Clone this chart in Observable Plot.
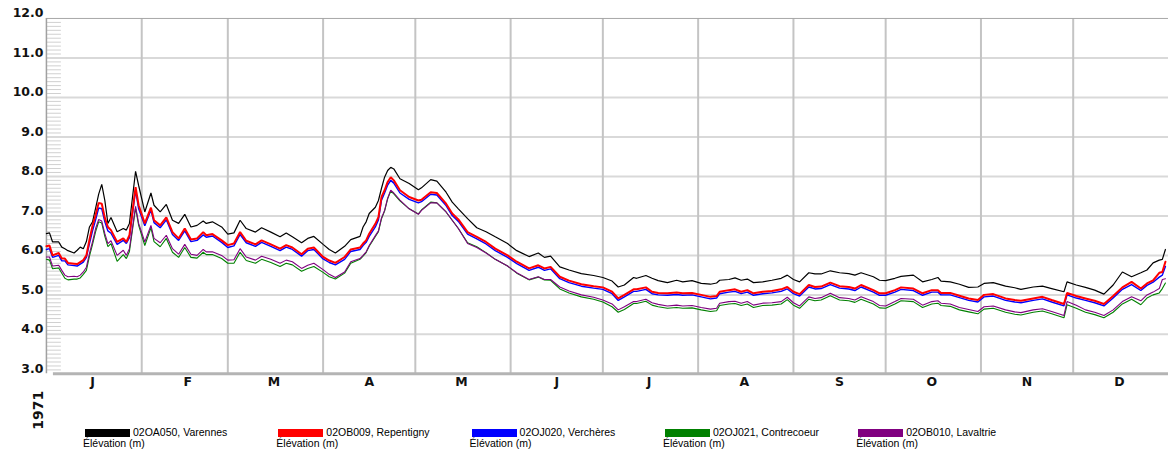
<!DOCTYPE html>
<html><head><meta charset="utf-8">
<script src="https://cdn.jsdelivr.net/npm/d3@7"></script>
<script src="https://cdn.jsdelivr.net/npm/@observablehq/plot@0.6"></script>
<style>
html,body{margin:0;padding:0;background:#fff;overflow:hidden;}
#wrap{position:relative;width:1168px;height:453px;overflow:hidden;}
#wrap svg{position:absolute;left:0;top:0;}
#legend{position:absolute;left:83px;top:427px;display:flex;font-family:"Liberation Sans",Arial,sans-serif;font-size:10.5px;color:#000;}
.item{width:193.3px;line-height:11px;white-space:nowrap;}
.sw{display:inline-block;width:45px;height:8px;vertical-align:-1px;margin-left:2px;margin-right:3px;}
</style></head><body><div id="wrap"><div id="legend"></div></div>
<script>
// day-of-year (0 = Jan 1, 1971) of each read vertex
const days = [0,1,2,4,5,6,7,9,10,11,
12,13,14,15,16,17,18,19,20,21,
23,25,26,27,29,30,32,34,35,37,
39,41,43,45,47,49,51,52,54,57,
59,61,63,65,68,70,73,76,78,80,
83,85,87,90,92,94,97,99,102,103,
104,105,107,108,109,110,111,112,113,115,
118,121,122,125,127,130,132,134,137,140,
143,146,150,153,157,160,162,164,167,170,
174,178,181,184,186,188,191,192,195,197,
199,202,205,207,210,213,216,218,219,222,
224,226,228,230,233,236,239,241,243,245,
248,250,252,255,258,261,263,265,269,271,
273,276,278,282,285,288,290,291,294,297,
300,303,305,308,312,315,317,321,324,327,
331,332,335,338,341,344,347,350,353,356,
358,360,362,363,364];

const varennes = [6.55,6.57,6.34,6.34,6.21,6.17,6.12,6.06,6.13,6.21,
6.17,6.35,6.72,6.85,7.20,7.55,7.80,7.39,6.81,6.96,
6.60,6.68,6.64,6.81,8.13,7.77,7.10,7.58,7.27,7.10,
7.29,6.89,6.81,7.04,6.72,6.76,6.87,6.81,6.85,6.72,
6.54,6.57,6.89,6.68,6.59,6.70,6.59,6.47,6.57,6.47,
6.32,6.43,6.48,6.28,6.15,6.06,6.23,6.40,6.48,6.72,
6.85,7.06,7.22,7.39,7.70,7.98,8.15,8.23,8.19,7.94,
7.82,7.66,7.71,7.92,7.88,7.60,7.35,7.18,6.93,6.70,
6.60,6.47,6.30,6.12,5.97,6.06,5.95,5.98,5.71,5.63,
5.54,5.49,5.44,5.35,5.20,5.25,5.44,5.42,5.49,5.42,
5.36,5.31,5.37,5.33,5.36,5.29,5.27,5.30,5.37,5.39,
5.43,5.37,5.40,5.31,5.33,5.37,5.42,5.50,5.39,5.33,
5.56,5.53,5.53,5.61,5.56,5.54,5.50,5.56,5.46,5.37,
5.36,5.42,5.47,5.50,5.33,5.39,5.44,5.35,5.33,5.27,
5.19,5.20,5.29,5.31,5.22,5.18,5.14,5.20,5.22,5.16,
5.08,5.33,5.25,5.19,5.12,5.02,5.25,5.58,5.46,5.56,
5.63,5.81,5.88,5.90,6.15];

const repentigny = [6.23,6.25,6.00,6.06,5.92,5.92,5.81,5.79,5.78,5.83,
5.88,6.00,6.40,6.75,7.02,7.33,7.31,6.95,6.72,6.64,
6.34,6.43,6.34,6.51,7.73,7.27,6.81,7.21,6.89,6.76,
6.96,6.59,6.43,6.68,6.40,6.43,6.59,6.51,6.54,6.38,
6.26,6.30,6.59,6.37,6.28,6.38,6.28,6.17,6.26,6.20,
6.03,6.17,6.20,5.96,5.87,5.81,5.96,6.15,6.20,6.30,
6.38,6.55,6.80,6.97,7.48,7.65,7.86,7.98,7.90,7.65,
7.48,7.39,7.41,7.60,7.58,7.31,7.06,6.91,6.59,6.47,
6.34,6.17,6.00,5.84,5.67,5.75,5.67,5.71,5.46,5.36,
5.27,5.22,5.19,5.08,4.91,5.00,5.14,5.14,5.19,5.08,
5.05,5.04,5.06,5.04,5.05,5.00,4.95,4.97,5.08,5.12,
5.14,5.08,5.12,5.04,5.08,5.10,5.14,5.20,5.08,5.02,
5.25,5.20,5.21,5.31,5.22,5.20,5.16,5.25,5.12,5.04,
5.04,5.12,5.19,5.16,5.04,5.12,5.12,5.05,5.05,4.98,
4.91,4.87,5.00,5.02,4.91,4.87,4.85,4.91,4.95,4.87,
4.77,5.05,4.97,4.91,4.85,4.77,4.97,5.19,5.33,5.16,
5.29,5.37,5.56,5.58,5.84];

const vercheres = [6.15,6.17,5.95,6.00,5.86,5.86,5.76,5.74,5.73,5.78,
5.83,5.95,6.30,6.62,6.90,7.20,7.18,6.85,6.62,6.56,
6.28,6.38,6.30,6.45,7.65,7.18,6.75,7.15,6.83,6.70,
6.90,6.53,6.38,6.62,6.35,6.38,6.52,6.46,6.49,6.33,
6.20,6.24,6.53,6.32,6.23,6.33,6.23,6.12,6.21,6.15,
5.98,6.12,6.15,5.91,5.82,5.76,5.90,6.10,6.15,6.25,
6.33,6.48,6.72,6.90,7.40,7.58,7.78,7.90,7.83,7.58,
7.42,7.33,7.36,7.55,7.53,7.26,7.01,6.86,6.54,6.42,
6.29,6.12,5.95,5.79,5.62,5.70,5.62,5.66,5.41,5.31,
5.22,5.17,5.14,5.03,4.86,4.95,5.09,5.09,5.14,5.03,
5.00,4.99,5.01,4.99,5.00,4.95,4.90,4.92,5.03,5.07,
5.09,5.03,5.07,4.99,5.03,5.05,5.09,5.15,5.03,4.97,
5.20,5.15,5.16,5.26,5.17,5.15,5.11,5.20,5.07,4.99,
4.99,5.07,5.14,5.11,4.99,5.07,5.07,5.00,5.00,4.93,
4.86,4.82,4.95,4.97,4.86,4.82,4.80,4.86,4.90,4.82,
4.72,5.00,4.92,4.86,4.80,4.72,4.92,5.14,5.26,5.11,
5.24,5.32,5.45,5.50,5.72];

const contrecoeur = [5.90,5.88,5.66,5.68,5.55,5.42,5.38,5.40,5.40,5.43,
5.52,5.62,5.98,6.28,6.60,6.85,6.82,6.48,6.22,6.30,
5.85,6.02,5.92,6.10,7.20,6.76,6.25,6.70,6.35,6.22,
6.43,6.08,5.95,6.20,5.95,5.93,6.08,6.02,6.02,5.92,
5.80,5.80,6.08,5.87,5.80,5.90,5.82,5.72,5.80,5.76,
5.60,5.67,5.72,5.57,5.46,5.40,5.55,5.80,5.90,5.98,
6.07,6.23,6.48,6.60,6.93,7.12,7.43,7.63,7.56,7.38,
7.18,7.05,7.15,7.35,7.33,7.10,6.89,6.68,6.32,6.22,
6.07,5.90,5.73,5.55,5.38,5.45,5.38,5.37,5.15,5.05,
4.95,4.89,4.82,4.70,4.56,4.63,4.78,4.78,4.84,4.74,
4.70,4.66,4.68,4.66,4.67,4.62,4.58,4.60,4.73,4.77,
4.78,4.73,4.77,4.68,4.73,4.74,4.77,4.88,4.74,4.66,
4.89,4.85,4.87,4.98,4.87,4.85,4.81,4.89,4.77,4.67,
4.66,4.77,4.85,4.83,4.68,4.77,4.79,4.73,4.71,4.62,
4.57,4.52,4.64,4.66,4.56,4.51,4.49,4.56,4.59,4.52,
4.42,4.75,4.66,4.56,4.50,4.42,4.56,4.77,4.89,4.75,
4.92,5.00,5.05,5.16,5.30];

const lavaltrie = [5.96,5.96,5.73,5.75,5.62,5.50,5.46,5.47,5.46,5.50,
5.58,5.70,6.05,6.35,6.68,6.91,6.87,6.55,6.30,6.37,
6.00,6.13,6.00,6.17,7.24,6.81,6.34,6.76,6.43,6.32,
6.51,6.17,6.03,6.28,6.03,6.00,6.15,6.09,6.09,6.00,
5.88,5.89,6.17,5.96,5.88,5.98,5.90,5.80,5.88,5.84,
5.67,5.75,5.80,5.64,5.52,5.44,5.58,5.84,5.92,6.00,
6.09,6.25,6.50,6.62,6.95,7.14,7.45,7.65,7.58,7.40,
7.18,7.04,7.14,7.33,7.33,7.10,6.89,6.68,6.30,6.20,
6.06,5.90,5.73,5.56,5.39,5.46,5.39,5.39,5.20,5.10,
5.00,4.94,4.87,4.77,4.62,4.70,4.83,4.83,4.89,4.80,
4.76,4.72,4.74,4.72,4.73,4.68,4.64,4.66,4.79,4.83,
4.84,4.79,4.83,4.74,4.79,4.80,4.83,4.94,4.80,4.72,
4.95,4.91,4.93,5.04,4.93,4.91,4.87,4.95,4.83,4.73,
4.72,4.83,4.91,4.89,4.74,4.83,4.85,4.79,4.77,4.68,
4.63,4.58,4.70,4.72,4.62,4.57,4.55,4.62,4.65,4.58,
4.48,4.83,4.74,4.62,4.56,4.48,4.62,4.83,4.95,4.85,
5.00,5.07,5.16,5.39,5.41];

const seriesNames = ["02OA050, Varennes","02OB009, Repentigny","02OJ020, Verchères","02OJ021, Contrecoeur","02OB010, Lavaltrie"];
const seriesColors = ["#000000","#ff0000","#0000ff","#008000","#800080"];
const unitLabel = "Élévation (m)";
const monthLabels = ["J","F","M","A","M","J","J","A","S","O","N","D"];
const yearLabel = "1971";
const yMajor = [3,4,5,6,7,8,9,10,11,12];

const start = new Date(Date.UTC(1971,0,1));
const end = new Date(Date.UTC(1972,0,1));
const toDate = d => new Date(Date.UTC(1971,0,1+d));
const monthStarts = d3.utcMonth.range(start, end);
const monthMids = monthStarts.map(m => new Date(Date.UTC(1971, m.getUTCMonth(), 16)));
const yMinor = d3.range(30,120).filter(v => v % 10 !== 0).map(v => v/10);

const allValues = [varennes, repentigny, vercheres, contrecoeur, lavaltrie];
const rows = allValues.map((vals, i) => days.map((d, j) => ({date: toDate(d), value: vals[j], series: seriesNames[i]})));
const widths = [1.2, 2, 1.4, 1.1, 1.1];
const drawOrder = [0, 2, 1, 3, 4];

const W = 1170, ML = 46;
const chart = Plot.plot({
  width: W, height: 453,
  marginTop: 18, marginBottom: 79, marginLeft: ML, marginRight: 0,
  style: {fontFamily: "'DejaVu Sans', sans-serif", background: "transparent", overflow: "visible"},
  x: {type: "utc", domain: [start, end], axis: null},
  y: {domain: [3, 12], axis: null},
  marks: [
    Plot.ruleY(yMajor.filter(v => v > 3 && v < 12), {stroke: "#d9d9d9", strokeWidth: 2}),
    Plot.ruleY(yMinor, {stroke: "#d0d0d0", strokeWidth: 1, insetLeft: 1, insetRight: W - ML - 15}),
    Plot.ruleX(monthStarts.slice(1), {stroke: "#c4c4c4", strokeWidth: 2}),
    Plot.ruleY([12], {stroke: "#a8a8a8", strokeWidth: 1}),
    Plot.ruleX([start], {stroke: "#a0a0a0", strokeWidth: 1.5}),
    Plot.ruleY([3], {stroke: "#b4b4b4", strokeWidth: 3, insetLeft: 7}),
    ...drawOrder.map(i => Plot.line(rows[i], {x: "date", y: "value", stroke: seriesColors[i], strokeWidth: widths[i], strokeLinejoin: "miter"})),
    Plot.text(yMajor, {y: d => d, text: d => d.toFixed(1), frameAnchor: "left", textAnchor: "end", dx: -3, dy: -5, fontWeight: "bold", fontSize: 12.5, fill: "#111"}),
    Plot.text(monthMids, {x: d => d, text: (d, i) => monthLabels[i], frameAnchor: "bottom", dy: 12, fontWeight: "bold", fontSize: 12.5, fill: "#111"}),
    Plot.text([yearLabel], {text: d => d, frameAnchor: "bottom-left", rotate: -90, dx: -3, dy: 56, fontWeight: "bold", fontSize: 14, fill: "#111"})
  ]
});
const wrap = document.getElementById("wrap");
wrap.insertBefore(chart, wrap.firstChild);

const legend = document.getElementById("legend");
seriesNames.forEach((name, i) => {
  const it = document.createElement("div");
  it.className = "item";
  it.innerHTML = `<div><span class="sw" style="background:${seriesColors[i]}"></span>${name}</div><div>${unitLabel}</div>`;
  legend.appendChild(it);
});
</script></body></html>
